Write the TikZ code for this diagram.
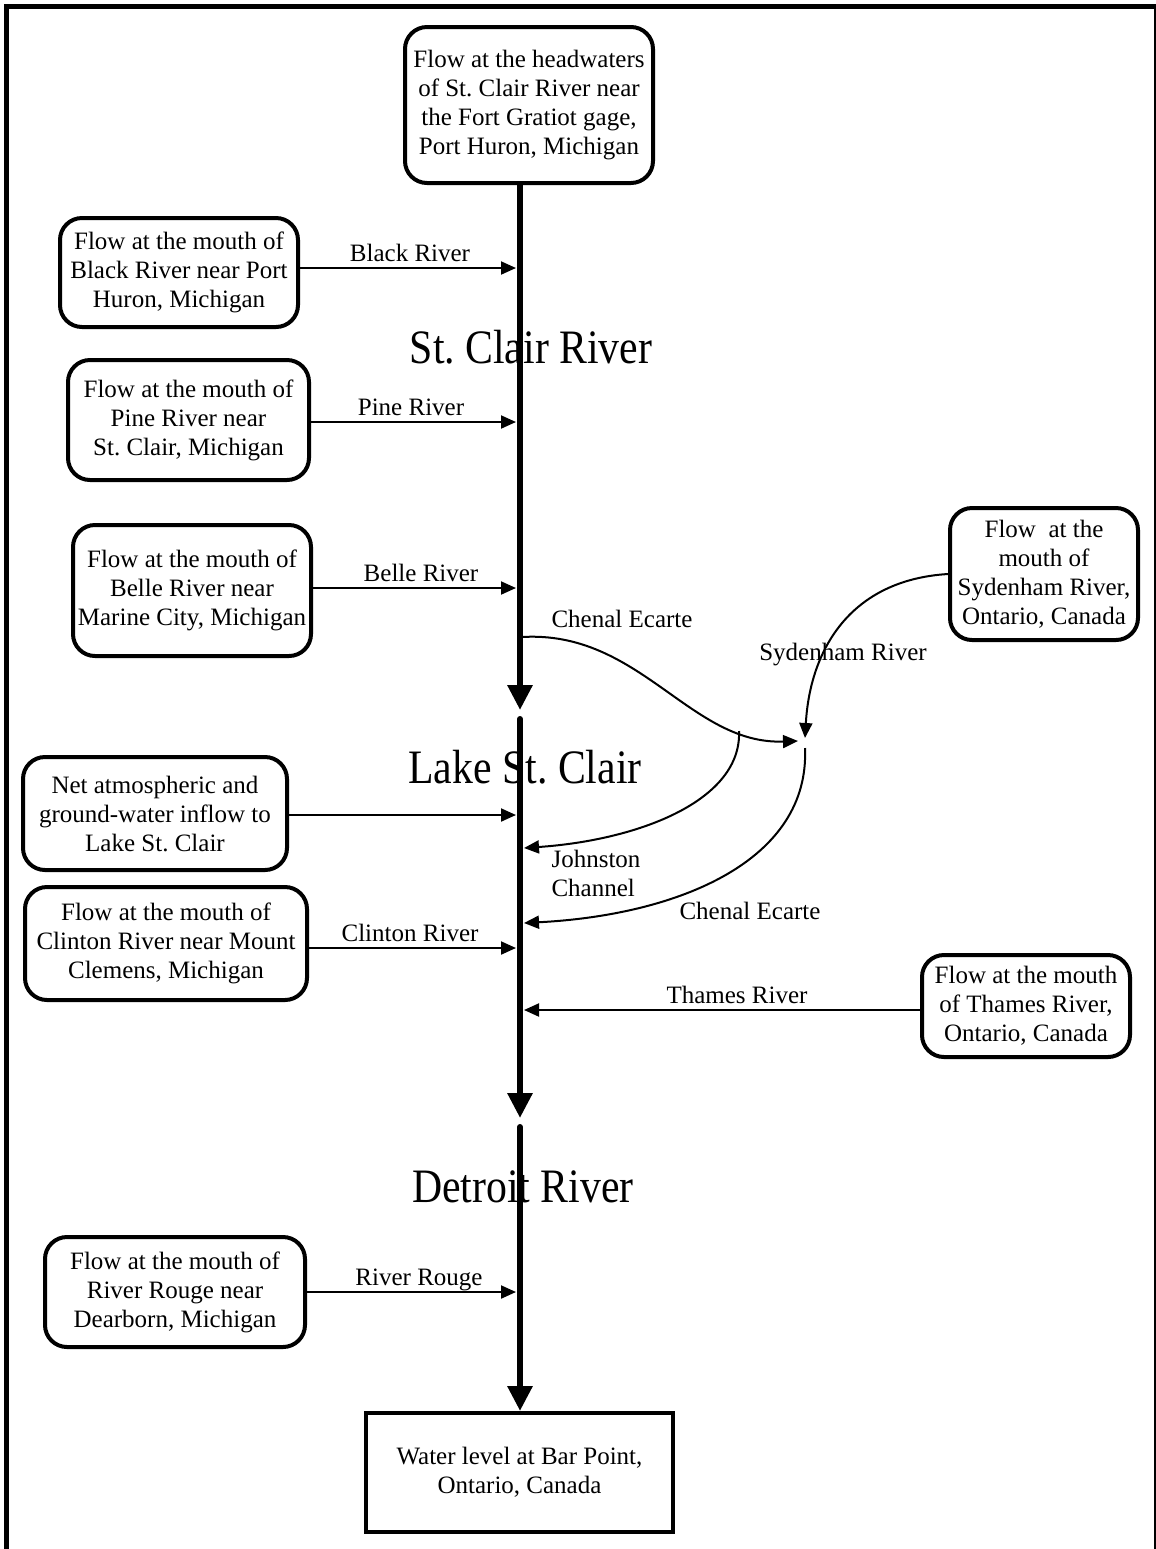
\documentclass[tikz,border=0pt]{standalone}
\usepackage{fontspec}
\setmainfont{Liberation Serif}
\usetikzlibrary{arrows.meta}
\frenchspacing
\begin{document}
\begin{tikzpicture}[x=0.5pt,y=-0.5pt,
  box/.style={draw, line width=2pt, rounded corners=11pt, align=center, inner sep=0pt, font=\fontsize{12.5}{14.5}\selectfont},
  sqbox/.style={draw, line width=2pt, align=center, inner sep=0pt, font=\fontsize{12.5}{14.5}\selectfont},
  river/.style={line width=3pt, line cap=round, -{Triangle[length=12.5pt,width=12pt]}},
  conn/.style={line width=1pt, -{Triangle[length=7.5pt,width=6.5pt]}},
  lbl/.style={font=\fontsize{12.5}{14.5}\selectfont, inner sep=0pt},
  lblb/.style={lbl, anchor=base},
  ttl/.style={font=\fontsize{24}{28}\selectfont, inner sep=0pt},
  frame/.style={line width=2.5pt}]
\useasboundingbox (0,0) rectangle (1156,1549);
% frame
\draw[frame] (4,6.5) -- (1156,6.5);
\draw[frame] (6.5,4) -- (6.5,1549);
\draw[line width=1pt] (1154.5,6.5) -- (1154.5,1549);
% boxes
\node[box, minimum width=124pt, minimum height=78pt] (top) at (529,105)
  {Flow at the headwaters\\of St. Clair River near\\the Fort Gratiot gage,\\Port Huron, Michigan};
\node[box, minimum width=119pt, minimum height=54.5pt] (black) at (179,272.5)
  {Flow at the mouth of\\Black River near Port\\Huron, Michigan};
\node[box, minimum width=120.5pt, minimum height=60pt] (pine) at (188.5,420)
  {Flow at the mouth of\\Pine River near\\St. Clair, Michigan};
\node[box, minimum width=119pt, minimum height=65.5pt] (belle) at (192,590.5)
  {Flow at the mouth of\\Belle River near\\Marine City, Michigan};
\node[box, minimum width=132pt, minimum height=56.5pt] (net) at (155,813.5)
  {Net atmospheric and\\ground-water inflow to\\Lake St. Clair};
\node[box, minimum width=141pt, minimum height=56.5pt] (clinton) at (166,943.5)
  {Flow at the mouth of\\Clinton River near Mount\\Clemens, Michigan};
\node[box, minimum width=130pt, minimum height=55pt] (rouge) at (175,1292)
  {Flow at the mouth of\\River Rouge near\\Dearborn, Michigan};
\node[box, minimum width=94pt, minimum height=66pt] (syd) at (1044,574)
  {Flow~ at the\\mouth of\\Sydenham River,\\Ontario, Canada};
\node[box, minimum width=104pt, minimum height=51pt] (thames) at (1026,1006)
  {Flow at the mouth\\of Thames River,\\Ontario, Canada};
\node[sqbox, minimum width=153.5pt, minimum height=59.5pt] (bottom) at (519.5,1472.5)
  {Water level at Bar Point,\\Ontario, Canada};
% main river
\coordinate (m1e) at (520,710);
\coordinate (m2s) at (520,719);
\coordinate (m2e) at (520,1118);
\coordinate (m3s) at (520,1127);
\draw[river] (top.south -| m1e) -- (m1e);
\draw[river] (m2s) -- (m2e);
\draw[river] (m3s) -- (bottom.north -| m3s);
% titles
\node[ttl] (tstclair) at (531,347) {\scalebox{0.87}[1]{St. Clair River}};
\node[ttl] (tlake) at (525,767) {\scalebox{0.87}[1]{Lake St. Clair}};
\node[ttl] (tdetroit) at (523,1187) {\scalebox{0.87}[1]{Detroit River}};
% straight tributaries
\coordinate (rl) at (516,0);
\coordinate (rr) at (524,0);
\coordinate (eblack) at ([yshift=2.25pt]black.east);
\coordinate (epine) at ([yshift=-1pt]pine.east);
\coordinate (ebelle) at ([yshift=1.25pt]belle.east);
\coordinate (enet) at ([yshift=-0.75pt]net.east);
\coordinate (eclinton) at ([yshift=-2.25pt]clinton.east);
\coordinate (ethames) at ([yshift=-2pt]thames.west);
\draw[conn] (eblack) -- (eblack -| rl);
\draw[conn] (epine) -- (epine -| rl);
\draw[conn] (ebelle) -- (ebelle -| rl);
\draw[conn] (enet) -- (enet -| rl);
\draw[conn] (eclinton) -- (eclinton -| rl);
\draw[conn] (rouge.east) -- (rouge.east -| rl);
\draw[conn] (ethames) -- (ethames -| rr);
% curved channels
\coordinate (cs) at (522,637);
\coordinate (jin) at (798,741);
\coordinate (sin) at (805,738);
\coordinate (cout) at (805,748);
\coordinate (jb) at (739,731);
\coordinate (jend) at (524,848);
\coordinate (cend) at (524,923);
\draw[conn] (cs) .. controls (640,630) and (690,745) .. (jin);
\draw[conn] (syd.west) .. controls (850,580) and (810,650) .. (sin);
\draw[conn] (jb) .. controls (742,800) and (640,840) .. (jend);
\draw[conn] (cout) .. controls (810,860) and (680,915) .. (cend);
% labels
\node[lblb] (lblack) at (410,261) {Black River};
\node[lblb] (lpine) at (411,415) {Pine River};
\node[lblb] (lbelle) at (421,581) {Belle River};
\node[lblb] (lclinton) at (410,941) {Clinton River};
\node[lblb] (lrouge) at (419,1285) {River Rouge};
\node[lblb] (lthames) at (737,1003) {Thames River};
\node[lbl] (lchen1) at (622,619) {Chenal Ecarte};
\node[lbl] (lsyd) at (843,655) {Sydenham River};
\node[lbl, align=left] (ljohn) at (596,873) {Johnston\\Channel};
\node[lbl] (lchen2) at (750,911) {Chenal Ecarte};
\end{tikzpicture}
\end{document}
